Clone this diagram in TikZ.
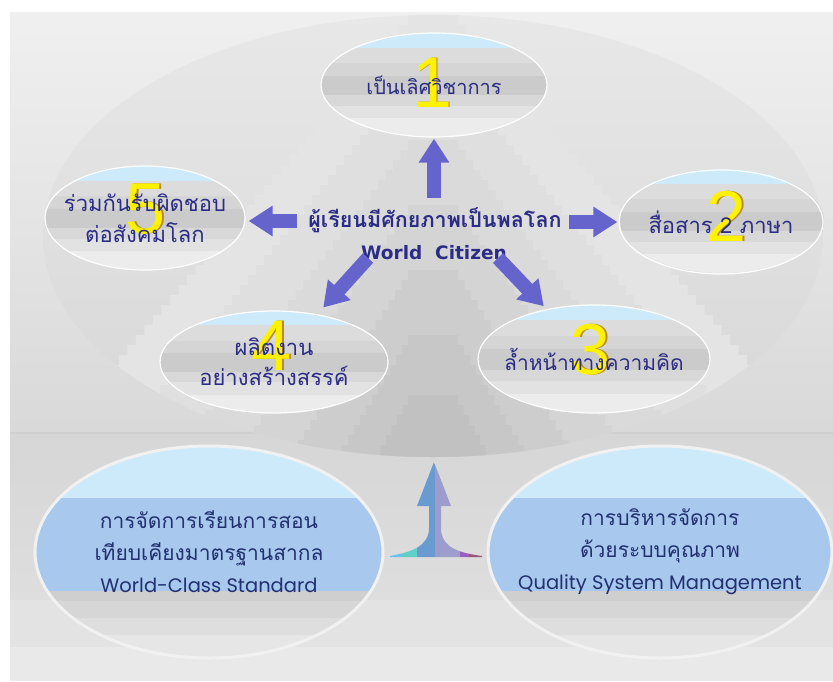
\documentclass[tikz,border=0pt]{standalone}
\usepackage{fontspec}
\setmainfont{Liberation Sans}
\newfontfamily\thaifont[Script=Thai]{Loma}
\newfontfamily\digitfont{Liberation Sans}
\newfontfamily\citfont{DejaVu Sans}
\newfontfamily\engfont{Poppins}
\usetikzlibrary{shapes.geometric,arrows.meta}
\definecolor{navy}{HTML}{2B2C85}
\definecolor{botnavy}{HTML}{22306F}
\definecolor{arrowblue}{HTML}{6464CC}
\definecolor{capblue}{HTML}{CDEAFB}
\definecolor{midblue}{HTML}{A8C8EE}
\definecolor{ringgray}{HTML}{F1F1F1}
\definecolor{digshadow}{HTML}{B88A20}
\definecolor{gA}{HTML}{DCDCDC}
\definecolor{gB}{HTML}{D5D5D5}
\definecolor{gC}{HTML}{CBCBCB}
\definecolor{gD}{HTML}{D8D8D8}
\definecolor{gE}{HTML}{E2E2E2}
\definecolor{gF}{HTML}{ECECEC}
\definecolor{hA}{HTML}{CFCFCF}
\definecolor{hB}{HTML}{D6D6D6}
\definecolor{hC}{HTML}{DEDEDE}
\definecolor{hD}{HTML}{E6E6E6}
\definecolor{sA}{HTML}{66C3EF}
\definecolor{sB}{HTML}{5FCFC8}
\definecolor{sC}{HTML}{6A9BD0}
\definecolor{sD}{HTML}{9C9CCD}
\definecolor{sE}{HTML}{9A5FC0}
\definecolor{sF}{HTML}{9A5577}
\newcommand\ellbands[5]{%
  \begin{scope}
    \clip (#1,#2) ellipse [x radius=#3, y radius=#4];
    \foreach \a/\b/\c in #5 {
      \fill[\c] ({#1-#3-3},{#2-#4+\a*2*#4}) rectangle ({#1+#3+3},{#2-#4+\b*2*#4});
    }
  \end{scope}}
\newcommand\stairs[4]{%
  \fill[#4] (433,#1) -- ({433-#2},#1) \foreach \i in {1,...,40}{ -- ++(0,10) -- ++({-#3*10},0)} -- (433,{#1+400}) -- cycle;
  \fill[#4] (433,#1) -- ({433+#2},#1) \foreach \i in {1,...,40}{ -- ++(0,10) -- ++({#3*10},0)} -- (433,{#1+400}) -- cycle;}
\newcommand\topbands{0/0.14/capblue,0.14/0.29/gA,0.29/0.41/gB,0.41/0.60/gC,0.60/0.70/gD,0.70/0.82/gE,0.82/1.01/gF}
\newcommand\botbands{0/0.245/capblue,0.245/0.685/midblue,0.685/0.73/hA,0.73/0.81/hB,0.81/0.89/hC,0.89/1.01/hD}
\newcommand\tfs[1]{\fontsize{#1}{31}\selectfont}
\begin{document}
\begin{tikzpicture}[x=1pt,y=-1pt,
  topell/.style={ellipse, draw=white, line width=1.2pt, inner xsep=-50pt, inner ysep=0pt, align=center,
    text=navy, font=\thaifont\fontsize{21}{31}\selectfont},
  botell/.style={ellipse, draw=ringgray, line width=3pt, inner xsep=-80pt, inner ysep=0pt, align=center,
    text=botnavy, font=\thaifont\fontsize{21}{32}\selectfont},
  bluearrow/.style={draw=arrowblue, line width=14pt, -{Triangle[length=24pt,width=29pt]}},
  digit/.style={text=yellow, font=\digitfont\fontsize{72}{72}\selectfont, inner sep=0pt},
  digsh/.style={text=digshadow, font=\digitfont\fontsize{72}{72}\selectfont, inner sep=0pt}]
\useasboundingbox (0,0) rectangle (833,681);
\fill[white] (0,0) rectangle (833,681);
% background
\shade[top color=black!6, bottom color=black!15] (10,12) rectangle (833,433);
\shade[top color=black!16, bottom color=black!13] (10,433) rectangle (833,600);
\fill[black!11] (10,600) rectangle (833,647);
\fill[black!8.5] (10,647) rectangle (833,681);
\draw[black!19, line width=1.5pt] (10,433) -- (833,433);
% dome
\begin{scope}
  \clip (433,236) ellipse [x radius=390, y radius=221];
  \shade[top color=black!9, bottom color=black!16] (30,10) rectangle (840,460);
  \stairs{15}{25}{0.85}{black!10.5}
  \stairs{75}{25}{0.80}{black!12.5}
  \stairs{140}{25}{0.75}{black!14.5}
  \stairs{205}{25}{0.70}{black!17}
  \stairs{270}{25}{0.65}{black!19.5}
  \stairs{335}{25}{0.60}{black!22}
  \stairs{395}{25}{0.55}{black!24.5}
\end{scope}
% top ellipses
\ellbands{434}{85}{113}{52}{\topbands}
\ellbands{722}{221}{102}{52}{\topbands}
\ellbands{145}{218}{100}{52}{\topbands}
\ellbands{274}{362}{114}{51}{\topbands}
\ellbands{594}{359}{116}{54}{\topbands}
% digits
\node[digsh] (d1s) at (434,83) {1};
\node[digit] (d1) at (432.5,83) {1};
\node[digsh] (d2s) at (728.5,216) {2};
\node[digit] (d2) at (727,216) {2};
\node[digsh] (d3s) at (592.5,350) {3};
\node[digit] (d3) at (591,350) {3};
\node[digsh] (d4s) at (273.5,346) {4};
\node[digit] (d4) at (272,346) {4};
\node[digsh] (d5s) at (147.5,209) {5};
\node[digit] (d5) at (146,209) {5};
% ellipse nodes
\node[topell, minimum width=226pt, minimum height=104pt, font=\thaifont\tfs{20}] (e1) at (434,85) {เป็นเลิศวิชาการ};
\node[topell, minimum width=204pt, minimum height=104pt, font=\thaifont\tfs{22}] (e2) at (721,222) {สื่อสาร 2 ภาษา};
\node[topell, minimum width=200pt, minimum height=104pt, font=\thaifont\tfs{22}] (e5) at (145,218) {ร่วมกันรับผิดชอบ\\ต่อสังคมโลก};
\node[topell, minimum width=228pt, minimum height=102pt, font=\thaifont\fontsize{22}{30}\selectfont] (e4) at (274,362) {ผลิตงาน\\อย่างสร้างสรรค์};
\node[topell, minimum width=232pt, minimum height=108pt, font=\thaifont\tfs{21}] (e3) at (594,359) {ล้ำหน้าทางความคิด};
% centre text
\node[text=navy, font=\thaifont\bfseries\fontsize{21.5}{24}\selectfont, inner sep=1pt] (ctr) at (435,220) {ผู้เรียนมีศักยภาพเป็นพลโลก};
\node[text=navy, font=\citfont\bfseries\fontsize{18.5}{24}\selectfont, inner sep=1pt] (ctrE) at (434,253) {World\ \ Citizen};
% arrows
\coordinate (tU) at (434,198);
\coordinate (tL) at (297,221);
\coordinate (tR) at (569,222);
\coordinate (tDL) at (368,258);
\coordinate (tDR) at (498,258);
\draw[bluearrow, shorten >=1pt] (tU) -- (e1.south);
\draw[bluearrow, shorten >=3pt] (tL) -- (tL -| e5.east);
\draw[bluearrow, shorten >=1pt] (tR) -- (tR -| e2.west);
\draw[bluearrow, shorten >=9pt] (tDL) -- (e4);
\draw[bluearrow, shorten >=4pt] (tDR) -- (e3);
% bottom ellipses
\ellbands{209}{552}{174}{106}{\botbands}
\ellbands{660}{552}{172}{106}{\botbands}
\node[botell, minimum width=348pt, minimum height=212pt] (b1) at (209,552) {การจัดการเรียนการสอน\\เทียบเคียงมาตรฐานสากล\\{\engfont\fontsize{19.5}{32}\selectfont World-Class Standard}};
\node[botell, minimum width=344pt, minimum height=212pt] (b2) at (660,552) {การบริหารจัดการ\\ด้วยระบบคุณภาพ\\{\engfont\fontsize{19.5}{32}\selectfont Quality System Management}};
% rising arrow
\begin{scope}
  \clip (434,462) -- (451,506) -- (441,506) -- (441,528)
    .. controls (441,548) and (460,553) .. (482,556) -- (482,557) -- (390,557) -- (390,556)
    .. controls (412,552) and (429,546) .. (429,528) -- (429,506) -- (417,506) -- cycle;
  \fill[sA] (385,450) rectangle (402,560);
  \fill[sB] (402,450) rectangle (417,560);
  \fill[sC] (417,450) rectangle (435,560);
  \fill[sD] (435,450) rectangle (460,560);
  \fill[sE] (460,450) rectangle (469,560);
  \fill[sF] (469,450) rectangle (486,560);
\end{scope}
\end{tikzpicture}
\end{document}
